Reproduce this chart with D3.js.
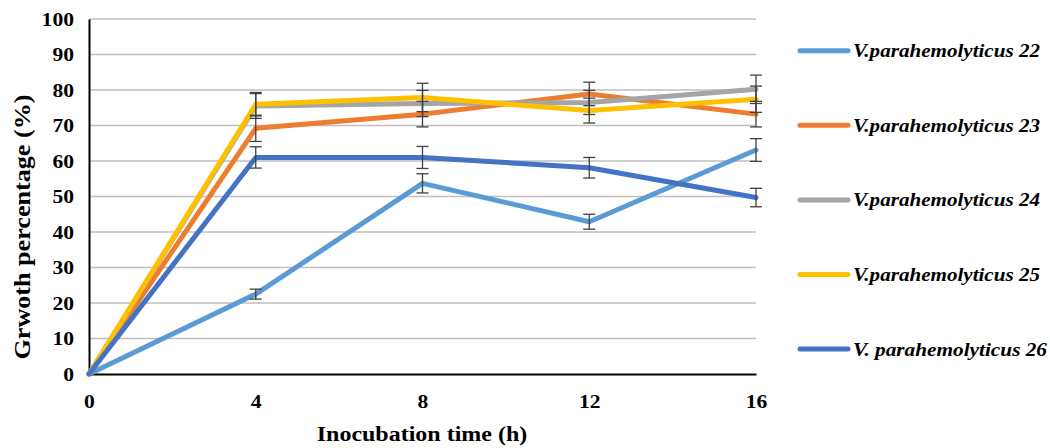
<!DOCTYPE html>
<html>
<head>
<meta charset="utf-8">
<script src="https://cdn.jsdelivr.net/npm/d3@7"></script>
</head>
<body style="margin:0">
<script>
// data
const hours = [0, 4, 8, 12, 16];
const seriesNames = [
  "V.parahemolyticus 22",
  "V.parahemolyticus 23",
  "V.parahemolyticus 24",
  "V.parahemolyticus 25",
  "V. parahemolyticus 26"
];
const v22 = [0, 22.5, 53.7, 42.9, 63.1];
const v23 = [0, 69.2, 73.2, 78.9, 73.2];
const v24 = [0, 75.5, 76.2, 76.5, 80.2];
const v25 = [0, 76.0, 77.9, 74.2, 77.4];
const v26 = [0, 61.0, 61.0, 58.1, 49.7];
const e22 = [0, 1.4, 2.7, 2.1, 3.2];
const e23 = [0, 3.7, 3.6, 3.3, 3.6];
const e24 = [0, 3.5, 3.7, 3.4, 4.0];
const e25 = [0, 3.3, 4.0, 3.5, 3.7];
const e26 = [0, 3.0, 3.1, 2.9, 2.6];
const yTicks = [0, 10, 20, 30, 40, 50, 60, 70, 80, 90, 100];
const xTicks = [0, 4, 8, 12, 16];
const colors = ["#5B9BD5", "#ED7D31", "#A5A5A5", "#FFC000", "#4472C4"];

const values = [v22, v23, v24, v25, v26];
const errors = [e22, e23, e24, e25, e26];

const width = 1050, height = 448;
const SX = 1.2; // the figure is stretched horizontally

// serif bold text helper
const serif = (sel, size) => sel
  .style("font-family", "'Liberation Serif'")
  .attr("font-weight", "bold")
  .attr("font-size", size)
  .attr("fill", "#000");

const svg = d3.select("body").append("svg")
  .attr("width", width).attr("height", height);

const x = d3.scaleLinear().domain([0, 16]).range([89, 756]);
const y = d3.scaleLinear().domain([0, 100]).range([374, 19]);

// gridlines
svg.append("g")
  .selectAll("line")
  .data(yTicks.filter(d => d > 0))
  .join("line")
  .attr("x1", x(0)).attr("x2", x(16))
  .attr("y1", d => y(d)).attr("y2", d => y(d))
  .attr("stroke", "#BFBFBF").attr("stroke-width", 1.3);

// y axis
const yAxis = svg.append("g")
  .attr("transform", `translate(${x(0)},0)`)
  .call(d3.axisLeft(y).tickValues(yTicks).tickSize(0).tickPadding(0))
  .attr("font-family", null).attr("font-size", null);
yAxis.select(".domain").attr("stroke", "#000").attr("stroke-width", 2);
yAxis.selectAll("text")
  .call(serif, 18)
  .attr("x", null).attr("dy", null)
  .attr("transform", `translate(-15,6) scale(${SX},1)`)
  .attr("text-anchor", "end");

// x axis
const xAxis = svg.append("g")
  .attr("transform", `translate(0,${y(0)})`)
  .call(d3.axisBottom(x).tickValues(xTicks).tickSize(0).tickPadding(0))
  .attr("font-family", null).attr("font-size", null);
xAxis.select(".domain").attr("stroke", "#000").attr("stroke-width", 2);
xAxis.selectAll("text")
  .call(serif, 18)
  .attr("y", null).attr("dy", null)
  .attr("transform", `translate(0,34) scale(${SX},1)`);

// axis titles
svg.append("text")
  .call(serif, 20)
  .attr("transform", `translate(422,441) scale(${SX},1)`)
  .attr("text-anchor", "middle")
  .text("Inocubation time (h)");

svg.append("text")
  .call(serif, 20)
  .attr("transform", `translate(30,227) scale(${SX},1) rotate(-90)`)
  .attr("text-anchor", "middle")
  .attr("textLength", 265).attr("lengthAdjust", "spacingAndGlyphs")
  .text("Grwoth percentage (%)");

// lines
const line = d3.line().x((d, i) => x(hours[i])).y(d => y(d));
svg.append("g")
  .selectAll("path")
  .data(values)
  .join("path")
  .attr("d", line)
  .attr("fill", "none")
  .attr("stroke", (d, i) => colors[i])
  .attr("stroke-width", 5)
  .attr("stroke-linejoin", "round")
  .attr("stroke-linecap", "round");

// error bars (skip t=0)
const bars = [];
values.forEach((vals, s) => {
  vals.forEach((v, i) => {
    if (hours[i] > 0) bars.push({ t: hours[i], v, e: errors[s][i] });
  });
});
const eb = svg.append("g").attr("stroke", "#404040").attr("stroke-width", 1.3);
bars.forEach(b => {
  const cx = x(b.t);
  eb.append("line").attr("x1", cx).attr("x2", cx).attr("y1", y(b.v - b.e)).attr("y2", y(b.v + b.e));
  eb.append("line").attr("x1", cx - 6).attr("x2", cx + 6).attr("y1", y(b.v + b.e)).attr("y2", y(b.v + b.e));
  eb.append("line").attr("x1", cx - 6).attr("x2", cx + 6).attr("y1", y(b.v - b.e)).attr("y2", y(b.v - b.e));
});

// legend
const lg = svg.append("g")
  .selectAll("g")
  .data(seriesNames)
  .join("g")
  .attr("transform", (d, i) => `translate(800,${50.7 + i * 74.6})`);
lg.append("line")
  .attr("x1", 0).attr("x2", 48)
  .attr("stroke", (d, i) => colors[i])
  .attr("stroke-width", 5)
  .attr("stroke-linecap", "round");
lg.append("text")
  .call(serif, 19)
  .attr("x", 53).attr("y", 6.5)
  .attr("font-style", "italic")
  .attr("textLength", (d, i) => i === 4 ? 194 : 187)
  .attr("lengthAdjust", "spacingAndGlyphs")
  .text(d => d);
</script>
</body>
</html>
